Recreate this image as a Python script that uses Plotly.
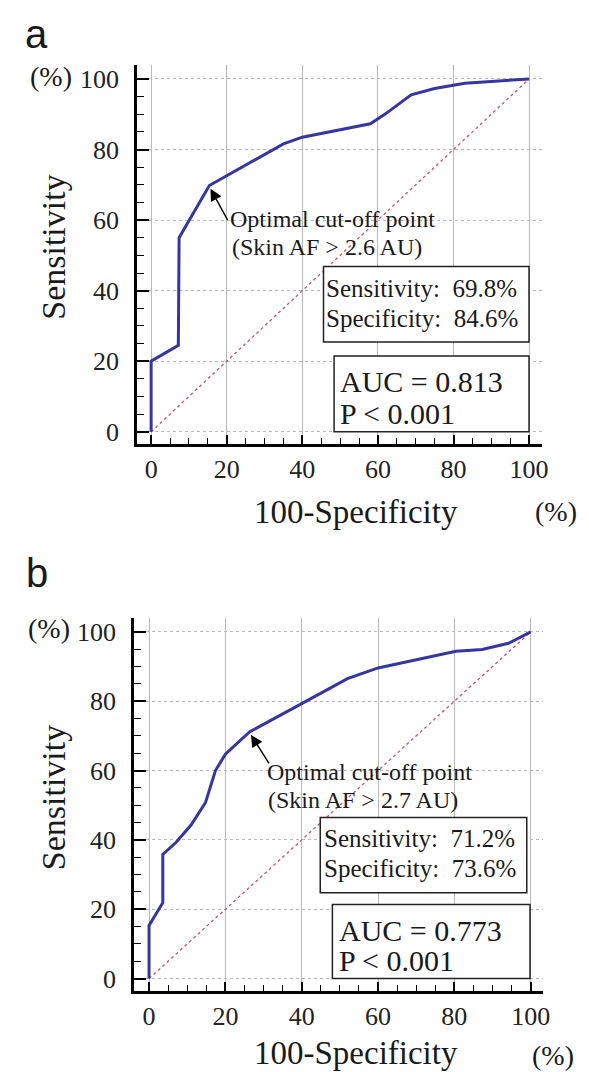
import plotly.graph_objects as go

# ---------------- data ----------------
fpr_a = [0, 0, 7.2, 7.4, 15.4, 25, 35, 40, 58, 62, 68.8, 75, 83, 100]
tpr_a = [0, 20, 24.5, 55, 69.8, 75.6, 81.6, 83.5, 87.3, 90.1, 95.5, 97.3, 98.8, 100]

fpr_b = [0, 0, 3.6, 3.6, 7.1, 11, 14.8, 17.4, 20, 26.4, 40, 52, 60, 70, 80.4, 87.3, 94.2, 100]
tpr_b = [0, 15.3, 21.9, 35.8, 39.3, 44.3, 50.8, 60, 64.7, 71.2, 79.3, 86.5, 89.6, 92, 94.4, 94.9, 96.7, 100]

ref_line = [0, 100]
tick_vals = [0, 20, 40, 60, 80, 100]
tick_text = ["0", "20", "40", "60", "80", "100"]

panel_labels = ["a", "b"]
cutoff_text = ["(Skin AF > 2.6 AU)", "(Skin AF > 2.7 AU)"]
sens_text = ["Sensitivity:  69.8%", "Sensitivity:  71.2%"]
spec_text = ["Specificity:  84.6%", "Specificity:  73.6%"]
auc_text = ["AUC = 0.813", "AUC = 0.773"]
p_text = ["P < 0.001", "P < 0.001"]
cut_x = [15.4, 26.4]
cut_y = [69.8, 71.2]

W, H = 589, 1072
SERIF = "Liberation Serif"
SANS = "Liberation Sans"

def px(x):
    return x / W

def py(y):
    return 1 - y / H

# panel geometry in pixels (left, right, top, bottom)
geo = [
    dict(l=130.7, r=540, t=57, b=437, xr=[-3.7, 103.3], yr=[-3.4, 104]),
    dict(l=127.7, r=541.7, t=611.7, b=986, xr=[-3.9, 103.3], yr=[-3.65, 104]),
]

fig = go.Figure()

curves = [(fpr_a, tpr_a), (fpr_b, tpr_b)]
for i, (fx, fy) in enumerate(curves):
    xa = "x" if i == 0 else "x2"
    ya = "y" if i == 0 else "y2"
    fig.add_trace(go.Scatter(x=ref_line, y=ref_line, mode="lines",
                             line=dict(color="#c4566a", width=1.3, dash="dot"),
                             xaxis=xa, yaxis=ya, showlegend=False, hoverinfo="skip"))
    fig.add_trace(go.Scatter(x=fx, y=fy, mode="lines",
                             line=dict(color="#3636a0", width=3),
                             xaxis=xa, yaxis=ya, showlegend=False))

def axis_common():
    return dict(
        showline=True, linecolor="black", linewidth=3,
        ticks="inside", tickcolor="black", tickwidth=1.5,
        tickvals=tick_vals, ticktext=tick_text,
        tickfont=dict(family=SERIF, size=26, color="#222"),
        showgrid=True, gridcolor="#b8b8b8", gridwidth=1,
        zeroline=False, fixedrange=True,
        minor=dict(dtick=5, ticks="inside", ticklen=6, tickcolor="black", tickwidth=1.3, showgrid=False),
    )

layout = dict(width=W, height=H, margin=dict(l=0, r=0, t=0, b=0),
              paper_bgcolor="white", plot_bgcolor="white", showlegend=False)

for i, g in enumerate(geo):
    sx = "" if i == 0 else "2"
    xax = axis_common()
    xax.update(domain=[px(g["l"]), px(g["r"])], range=g["xr"], ticklen=9,
               anchor="y" + sx, griddash="solid", ticklabelstandoff=0)
    yax = axis_common()
    yax.update(domain=[py(g["b"]), py(g["t"])], range=g["yr"], ticklen=12,
               anchor="x" + sx, griddash="dot", ticklabelstandoff=10)
    yax["minor"]["ticklen"] = 7
    layout["xaxis" + sx] = xax
    layout["yaxis" + sx] = yax

fig.update_layout(**layout)

anns = []
shapes = []
# per-panel text positions (pixels)
pos = [
    dict(lab=(29, 26), pct_y=(44, 69), xt=(352, 505), pct_x=(555, 505), yt=(46, 240),
         opt=(223, 212), skin=(225, 240), tail=(18, 33),
         box1=(319.3, 527.3, 259.3, 335), s1=(320, 281.7), s2=(320, 311.7),
         box2=(330, 527.3, 349, 425), a1=(334, 375), a2=(334, 406.7)),
    dict(lab=(29, 567), pct_y=(41, 622), xt=(352, 1048), pct_x=(552, 1050), yt=(46, 792),
         opt=(260, 766), skin=(261, 794), tail=(19, 30),
         box1=(316, 525, 811.7, 887.3), s1=(317.3, 833.3), s2=(317.3, 863.3),
         box2=(328.3, 528.3, 899, 973.3), a1=(333.3, 925), a2=(333.3, 955)),
]

for i, p in enumerate(pos):
    sx = "" if i == 0 else "2"
    def txt(t, xy, size, family=SERIF, xanchor="center", angle=0):
        anns.append(dict(text=t, x=px(xy[0]), y=py(xy[1]), xref="paper", yref="paper",
                         xanchor=xanchor, yanchor="middle", showarrow=False, textangle=angle,
                         font=dict(family=family, size=size, color="#1a1a1a")))
    txt(panel_labels[i], p["lab"], 40, family=SANS)
    txt("(%)", p["pct_y"], 28)
    txt("100-Specificity", p["xt"], 33)
    txt("(%)", p["pct_x"], 28)
    txt("Sensitivity", p["yt"], 34, angle=-90)
    txt("Optimal cut-off point", p["opt"], 24, xanchor="left")
    txt(cutoff_text[i], p["skin"], 24, xanchor="left")
    # arrow
    anns.append(dict(text="", x=cut_x[i] + 0.3, y=cut_y[i] - 0.9, xref="x" + sx, yref="y" + sx,
                     showarrow=True, ax=p["tail"][0], ay=p["tail"][1], arrowhead=2,
                     arrowsize=1.7, arrowwidth=1.4, arrowcolor="black", standoff=0))
    for key in ("box1", "box2"):
        b = p[key]
        shapes.append(dict(type="rect", xref="paper", yref="paper",
                           x0=px(b[0]), x1=px(b[1]), y0=py(b[3]), y1=py(b[2]),
                           line=dict(color="#222", width=1.5), fillcolor="white", layer="above"))
    txt(sens_text[i], p["s1"], 25, xanchor="left")
    txt(spec_text[i], p["s2"], 25, xanchor="left")
    txt(auc_text[i], p["a1"], 30, xanchor="left")
    txt(p_text[i], p["a2"], 30, xanchor="left")

fig.update_layout(annotations=anns, shapes=shapes)
fig.write_html("out.html")
